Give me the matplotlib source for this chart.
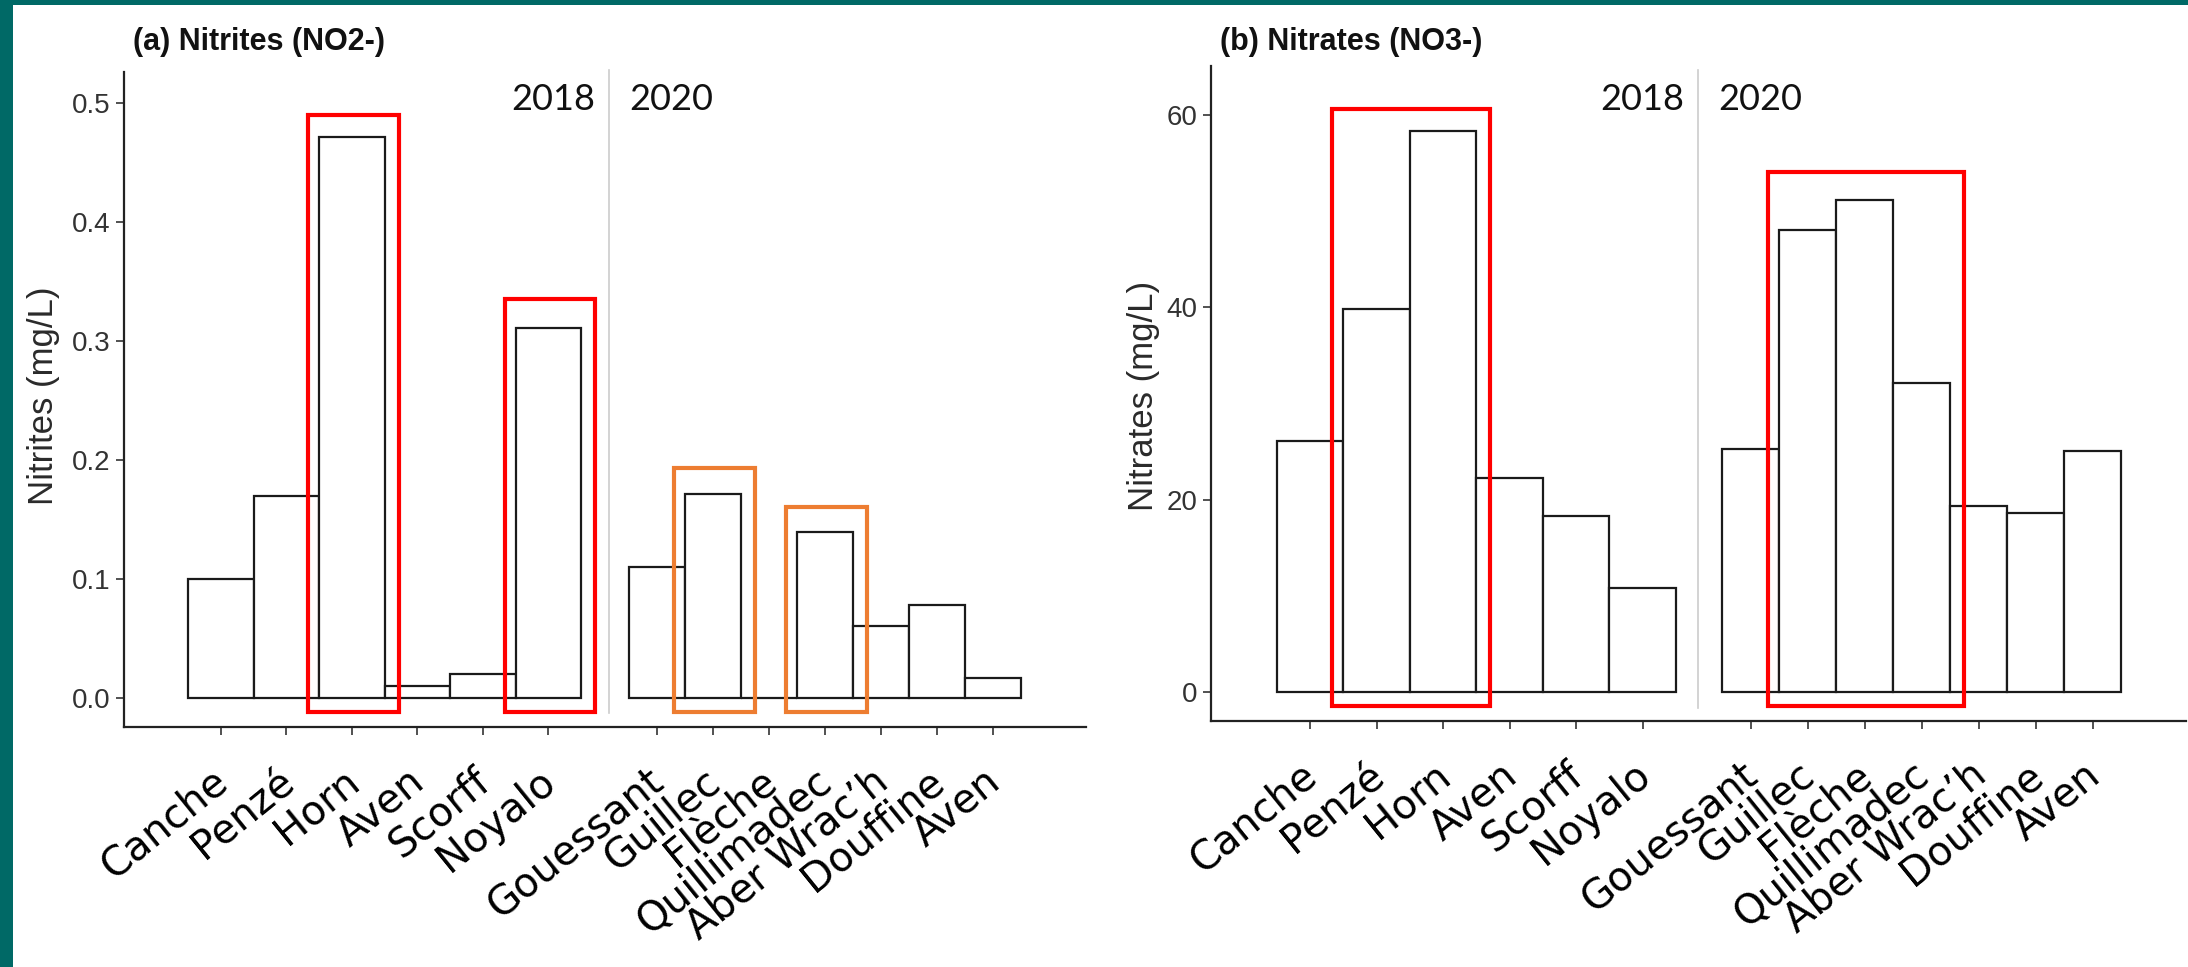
import matplotlib
matplotlib.use("Agg")
import matplotlib.pyplot as plt
from matplotlib.patches import Rectangle
from matplotlib.transforms import ScaledTranslation, blended_transform_factory
import numpy as np

# ---------------- data ----------------
sites_2018 = ["Canche", "Penzé", "Horn", "Aven", "Scorff", "Noyalo"]
sites_2020 = ["Gouessant", "Guillec", "Flèche", "Quillimadec", "Aber Wrac’h", "Douffine", "Aven"]
years = ["2018", "2020"]

nitrites_2018 = [0.100, 0.170, 0.471, 0.010, 0.020, 0.311]
nitrites_2020 = [0.110, 0.172, 0.000, 0.140, 0.061, 0.078, 0.017]
nitrates_2018 = [26.1, 39.8, 58.3, 22.3, 18.3, 10.8]
nitrates_2020 = [25.3, 48.1, 51.2, 32.2, 19.4, 18.6, 25.1]

nitrites_ticks = [0.0, 0.1, 0.2, 0.3, 0.4, 0.5]
nitrates_ticks = [0, 20, 40, 60]

titles = ["(a) Nitrites (NO2-)", "(b) Nitrates (NO3-)"]
ylabels = ["Nitrites (mg/L)", "Nitrates (mg/L)"]

# highlight boxes: (year group, first bar, last bar, top value, colour)
nitrites_boxes = [(0, 2, 2, 0.490, "#FF0000"), (0, 5, 5, 0.335, "#FF0000"),
                  (1, 1, 1, 0.1936, "#ED7D31"), (1, 3, 3, 0.161, "#ED7D31")]
nitrates_boxes = [(0, 1, 2, 60.6, "#FF0000"), (1, 1, 3, 54.05, "#FF0000")]

# ---------------- layout (pixels) ----------------
W, H = 2188, 967
fig = plt.figure(figsize=(W / 100, H / 100), dpi=100)
fig.patch.set_facecolor("white")

TEAL = "#006966"
fig.add_artist(Rectangle((0, 1 - 5 / H), 1, 5 / H, transform=fig.transFigure,
                         color=TEAL, lw=0, zorder=10))
fig.add_artist(Rectangle((0, 0), 12.5 / W, 1, transform=fig.transFigure,
                         color=TEAL, lw=0, zorder=10))

layouts = [
    dict(rect=(123.5, 72, 1086, 727), s18=64.5, w18=65.5, sep=485.5, s20=505.5, w20=56.0,
         ylim=(-0.0241, 0.526), sep_bot=713, sep_top=70, title_x=133, ylab_x=44,
         fmt="{:.1f}"),
    dict(rect=(1210.8, 66, 2186, 720.7), s18=66.0, w18=66.5, sep=487.6, s20=511.2, w20=57.06,
         ylim=(-2.95, 65.1), sep_bot=708, sep_top=70, title_x=1220, ylab_x=1144,
         fmt="{:.0f}"),
]

panels = [
    (nitrites_2018, nitrites_2020, nitrites_ticks, nitrites_boxes),
    (nitrates_2018, nitrates_2020, nitrates_ticks, nitrates_boxes),
]

EDGE = "#1a1a1a"
for k, ((v18, v20, yt, boxes), lay) in enumerate(zip(panels, layouts)):
    x0, y0, x1, y1 = lay["rect"]
    ax = fig.add_axes([x0 / W, 1 - y1 / H, (x1 - x0) / W, (y1 - y0) / H])
    total = x1 - x0
    ax.set_xlim(0, total)
    ax.set_ylim(*lay["ylim"])
    ppu = (y1 - y0) / (lay["ylim"][1] - lay["ylim"][0])

    xs = [lay["s18"] + lay["w18"] * np.arange(len(v18)),
          lay["s20"] + lay["w20"] * np.arange(len(v20))]
    ws = [lay["w18"], lay["w20"]]
    for xg, vg, wg in zip(xs, [v18, v20], ws):
        ax.bar(xg, vg, width=wg, align="edge", facecolor="white",
               edgecolor=EDGE, linewidth=1.6, zorder=2)

    centers = np.concatenate([xs[0] + ws[0] / 2, xs[1] + ws[1] / 2])
    ax.set_xticks(centers)
    ax.set_xticklabels([])
    lab_trans = (blended_transform_factory(ax.transData, ax.transAxes) +
                 ScaledTranslation(-10 / 100, -34 / 100, fig.dpi_scale_trans))
    for cx, name in zip(centers, sites_2018 + sites_2020):
        ax.text(cx, 0, name, transform=lab_trans, rotation=39, ha="right", va="top",
                rotation_mode="anchor", fontsize=29, family="DejaVu Sans",
                color="black", clip_on=False)

    ax.set_yticks(yt)
    ax.set_yticklabels([lay["fmt"].format(t) for t in yt], family="Liberation Sans",
                       fontsize=20, color="#333333")

    ax.tick_params(axis="x", length=5.5, width=1.2, color="#333333")
    ax.tick_params(axis="y", length=5.5, width=1.2, color="#333333", pad=4)
    for s in ["top", "right"]:
        ax.spines[s].set_visible(False)
    for s in ["left", "bottom"]:
        ax.spines[s].set_linewidth(1.6)
        ax.spines[s].set_color("#222222")
    ax.set_facecolor("none")

    # separator between years
    ymin = (y1 - lay["sep_bot"]) / (y1 - y0)
    ymax = (y1 - lay["sep_top"]) / (y1 - y0)
    ax.axvline(lay["sep"], ymin=ymin, ymax=ymax, color="#CCCCCC", lw=1.2,
               clip_on=False, zorder=1)
    ty = (y1 - 99) / (y1 - y0)
    trans = blended_transform_factory(ax.transData, ax.transAxes)
    ax.text(lay["sep"] - 14, ty, years[0], transform=trans, ha="right", va="center",
            fontsize=26, family="Lato", color="#111111")
    ax.text(lay["sep"] + 20, ty, years[1], transform=trans, ha="left", va="center",
            fontsize=26, family="Lato", color="#111111")

    # highlight boxes
    for (g, i0, i1, top, col) in boxes:
        bx0 = xs[g][i0] - 11
        bx1 = xs[g][i1] + ws[g] + 14
        bot = -13.4 / ppu
        ax.add_patch(Rectangle((bx0, bot), bx1 - bx0, top - bot, fill=False,
                               edgecolor=col, linewidth=3.0, zorder=3, clip_on=False))

    # titles and y labels
    fig.text(lay["title_x"] / W, 1 - 42 / H, titles[k], ha="left", va="center",
             fontsize=22, fontweight="bold", family="Liberation Sans", color="#111111")
    fig.text(lay["ylab_x"] / W, 1 - 396 / H, ylabels[k], rotation=90, ha="center",
             va="center", fontsize=25, family="Liberation Sans", color="#2a2a2a")

fig.savefig("out.png", dpi=100, facecolor="white")
